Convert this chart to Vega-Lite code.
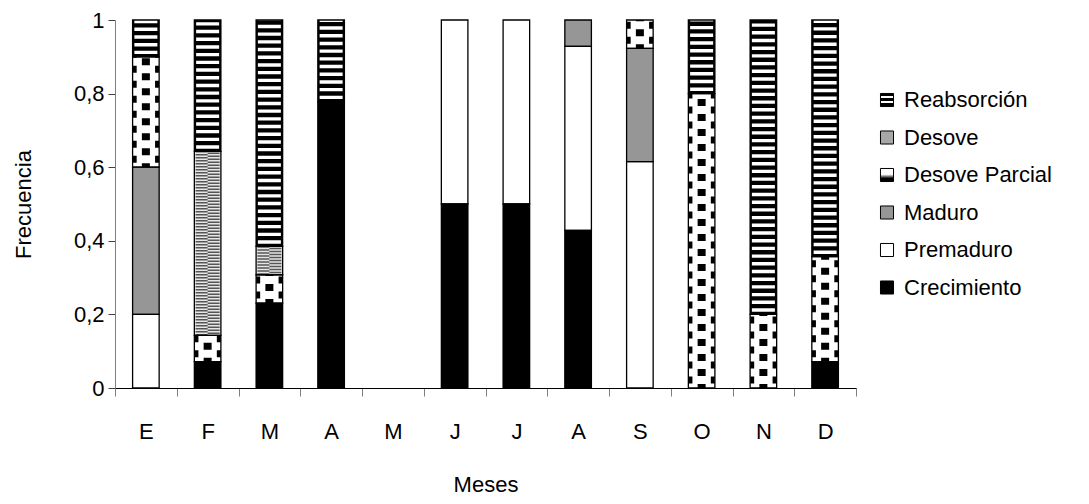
{
  "$schema": "https://vega.github.io/schema/vega-lite/v6.json",
  "width": 741,
  "height": 368,
  "autosize": {"type": "none"},
  "padding": {"left": 115, "top": 20, "right": 233, "bottom": 116},
  "background": "white",
  "config": {
    "font": "Liberation Sans",
    "view": {"stroke": null},
    "axis": {"grid": false, "labelColor": "black", "titleColor": "black", "titleFontWeight": "normal", "labelFontSize": 22, "titleFontSize": 22}
  },
  "data": {
    "values": [
      {"mes": "E", "estado": "Premaduro", "valor": 0.2},
      {"mes": "E", "estado": "Maduro", "valor": 0.4},
      {"mes": "E", "estado": "Desove Parcial", "valor": 0.3},
      {"mes": "E", "estado": "Reabsorción", "valor": 0.1},
      {"mes": "F", "estado": "Crecimiento", "valor": 0.0714},
      {"mes": "F", "estado": "Desove Parcial", "valor": 0.0714},
      {"mes": "F", "estado": "Desove", "valor": 0.5},
      {"mes": "F", "estado": "Reabsorción", "valor": 0.3572},
      {"mes": "M1", "estado": "Crecimiento", "valor": 0.2308},
      {"mes": "M1", "estado": "Desove Parcial", "valor": 0.0769},
      {"mes": "M1", "estado": "Desove", "valor": 0.0769},
      {"mes": "M1", "estado": "Reabsorción", "valor": 0.6154},
      {"mes": "A1", "estado": "Crecimiento", "valor": 0.7778},
      {"mes": "A1", "estado": "Reabsorción", "valor": 0.2222},
      {"mes": "J1", "estado": "Crecimiento", "valor": 0.5},
      {"mes": "J1", "estado": "Premaduro", "valor": 0.5},
      {"mes": "J2", "estado": "Crecimiento", "valor": 0.5},
      {"mes": "J2", "estado": "Premaduro", "valor": 0.5},
      {"mes": "A2", "estado": "Crecimiento", "valor": 0.4286},
      {"mes": "A2", "estado": "Premaduro", "valor": 0.5},
      {"mes": "A2", "estado": "Maduro", "valor": 0.0714},
      {"mes": "S", "estado": "Premaduro", "valor": 0.6154},
      {"mes": "S", "estado": "Maduro", "valor": 0.3077},
      {"mes": "S", "estado": "Desove Parcial", "valor": 0.0769},
      {"mes": "O", "estado": "Desove Parcial", "valor": 0.8},
      {"mes": "O", "estado": "Reabsorción", "valor": 0.2},
      {"mes": "N", "estado": "Desove Parcial", "valor": 0.2},
      {"mes": "N", "estado": "Reabsorción", "valor": 0.8},
      {"mes": "D", "estado": "Crecimiento", "valor": 0.0714},
      {"mes": "D", "estado": "Desove Parcial", "valor": 0.2857},
      {"mes": "D", "estado": "Reabsorción", "valor": 0.6429}
    ]
  },
  "transform": [
    {"stack": "valor", "groupby": ["mes"], "as": ["y0", "y1"]}
  ],
  "encoding": {
    "x": {
      "field": "mes",
      "type": "nominal",
      "title": "Meses",
      "scale": {"domain": ["E", "F", "M1", "A1", "M2", "J1", "J2", "A2", "S", "O", "N", "D"], "paddingInner": 0, "paddingOuter": 0},
      "axis": {
        "labelExpr": "substring(datum.label, 0, 1)",
        "labelAngle": 0,
        "tickBand": "extent",
        "tickSize": 8,
        "tickColor": "#7f7f7f",
        "domainColor": "black",
        "labelPadding": 25,
        "titlePadding": 32
      }
    },
    "y": {
      "field": "y0",
      "type": "quantitative",
      "title": "Frecuencia",
      "scale": {"domain": [0, 1], "nice": false},
      "axis": {
        "values": [0, 0.2, 0.4, 0.6, 0.8, 1],
        "labelExpr": "replace(format(datum.value, '~g'), '.', ',')",
        "tickSize": 7,
        "tickColor": "#404040",
        "domainColor": "#808080",
        "labelPadding": 4,
        "titlePadding": 38
      }
    },
    "y2": {"field": "y1"}
  },
  "layer": [
    {
      "mark": {"type": "bar", "width": {"band": 0.43}},
      "encoding": {
        "fill": {
          "field": "estado",
          "type": "nominal",
          "scale": {
            "domain": ["Reabsorción", "Desove", "Desove Parcial", "Maduro", "Premaduro", "Crecimiento"],
            "range": [
              {"expr": "{gradient: 'linear', x1: 0, y1: 0, x2: 0, y2: 1, stops: [{offset: 0, color: 'black'}, {offset: 0.2, color: 'black'}, {offset: 0.2, color: 'white'}, {offset: 0.38, color: 'white'}, {offset: 0.38, color: 'black'}, {offset: 0.58, color: 'black'}, {offset: 0.58, color: 'white'}, {offset: 0.76, color: 'white'}, {offset: 0.76, color: 'black'}, {offset: 1, color: 'black'}]}"},
              "#a8a8a8",
              {"expr": "{gradient: 'linear', x1: 0, y1: 0, x2: 0, y2: 1, stops: [{offset: 0, color: 'white'}, {offset: 0.45, color: 'white'}, {offset: 0.75, color: 'black'}, {offset: 1, color: 'black'}]}"},
              "#969696",
              "white",
              "black"
            ]
          },
          "legend": {
            "title": null,
            "orient": "none",
            "legendX": 761,
            "legendY": 69,
            "labelFontSize": 22,
            "labelColor": "black",
            "labelOffset": 6,
            "labelLimit": 300,
            "symbolType": "square",
            "symbolSize": 170,
            "symbolStrokeColor": "black",
            "symbolStrokeWidth": 1,
            "rowPadding": 15.5
          }
        }
      }
    },
    {
      "mark": {"type": "bar", "width": {"band": 0.43}},
      "encoding": {
        "color": {
          "field": "estado",
          "type": "nominal",
          "scale": {
            "domain": ["Reabsorción", "Desove", "Desove Parcial", "Maduro", "Premaduro", "Crecimiento"],
            "range": ["black", "#e6e6e6", "white", "#969696", "white", "black"]
          },
          "legend": null
        }
      }
    },
    {
      "transform": [{"filter": "datum.estado === 'Reabsorción'"}],
      "mark": {"type": "rule", "color": "white", "strokeWidth": 23, "strokeDash": [3.4, 4.3], "strokeDashOffset": 5, "strokeCap": "butt"},
      "encoding": {}
    },
    {
      "transform": [{"filter": "datum.estado === 'Desove'"}],
      "mark": {"type": "rule", "color": "#555555", "strokeWidth": 12, "xOffset": -6, "strokeDash": [1.5, 1.5], "strokeCap": "butt"},
      "encoding": {}
    },
    {
      "transform": [{"filter": "datum.estado === 'Desove'"}],
      "mark": {"type": "rule", "color": "#555555", "strokeWidth": 12, "xOffset": 6, "strokeDash": [1.5, 1.5], "strokeDashOffset": 1.5, "strokeCap": "butt"},
      "encoding": {}
    },
    {
      "transform": [{"filter": "datum.estado === 'Desove Parcial'"}],
      "mark": {"type": "rule", "color": "black", "strokeWidth": 8, "strokeDash": [7, 8], "strokeDashOffset": 3, "strokeCap": "butt"},
      "encoding": {}
    },
    {
      "transform": [{"filter": "datum.estado === 'Desove Parcial'"}],
      "mark": {"type": "rule", "color": "black", "strokeWidth": 4, "xOffset": -11.2, "strokeDash": [7, 8], "strokeDashOffset": 10.5, "strokeCap": "butt"},
      "encoding": {}
    },
    {
      "transform": [{"filter": "datum.estado === 'Desove Parcial'"}],
      "mark": {"type": "rule", "color": "black", "strokeWidth": 4, "xOffset": 11.2, "strokeDash": [7, 8], "strokeDashOffset": 10.5, "strokeCap": "butt"},
      "encoding": {}
    },
    {
      "mark": {"type": "bar", "width": {"band": 0.43}, "filled": false, "color": "black", "strokeWidth": 1.3}
    }
  ]
}
